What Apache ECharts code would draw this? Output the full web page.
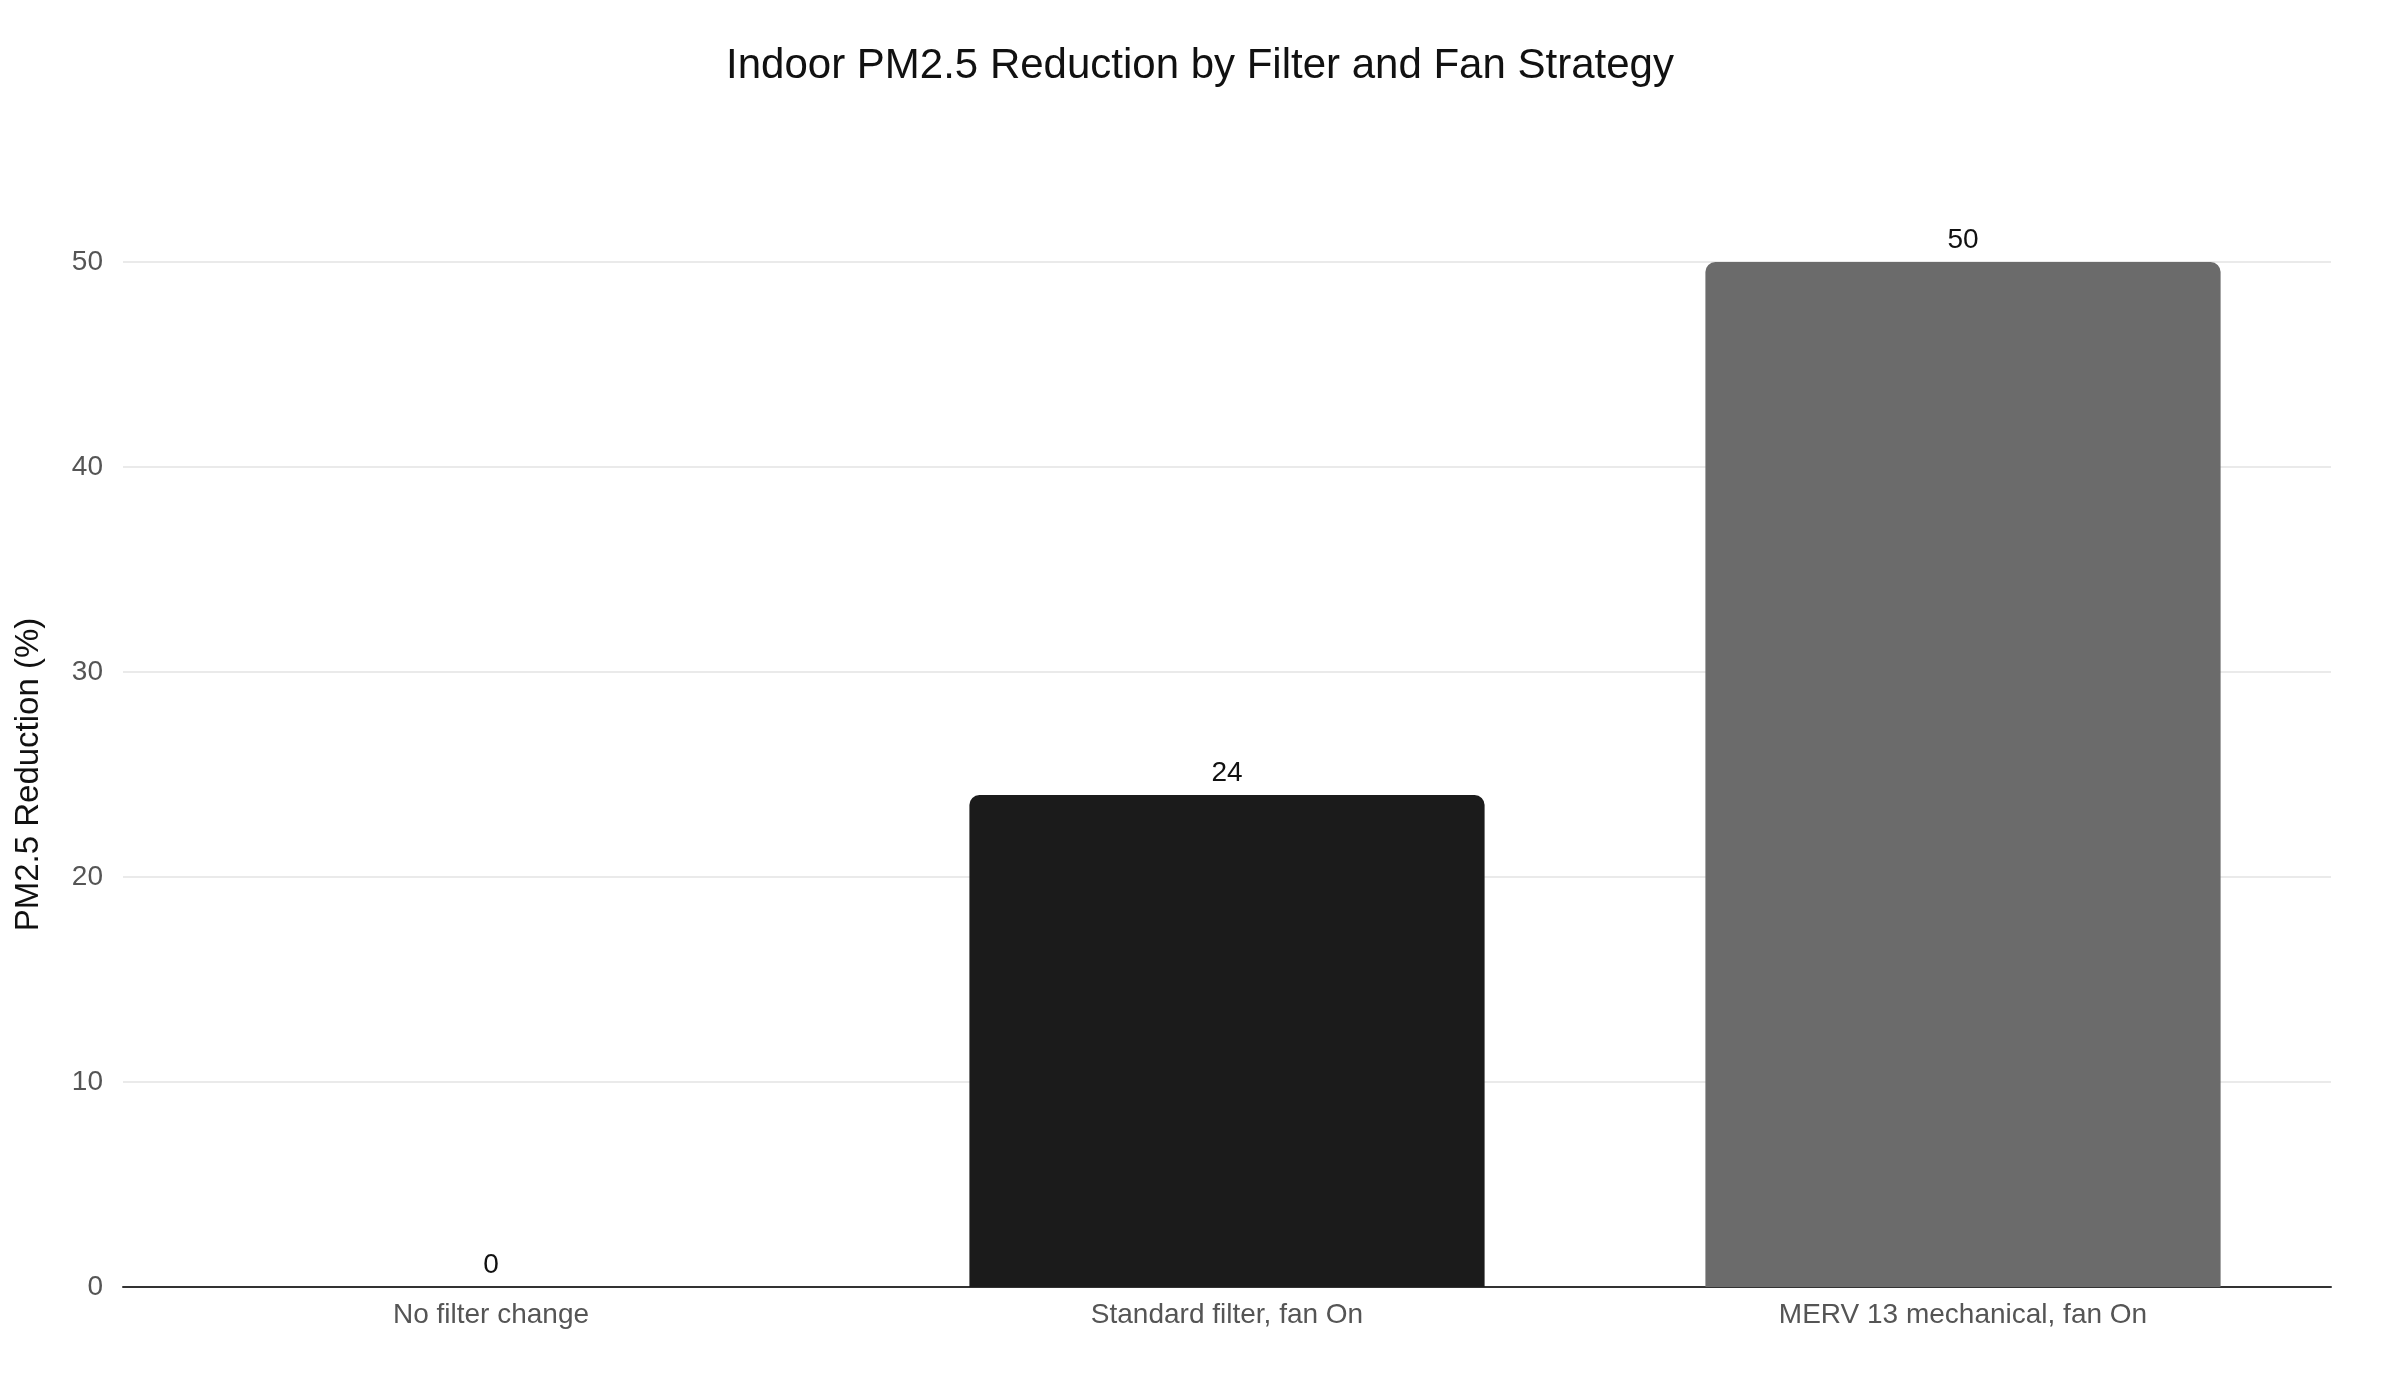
<!DOCTYPE html>
<html><head><meta charset="utf-8">
<script src="https://cdn.jsdelivr.net/npm/echarts@6/dist/echarts.min.js"></script>
<style>html,body{margin:0;background:#fff}#c{width:2400px;height:1400px}</style>
</head><body><div id="c"></div>
<script>
const categories = ["No filter change", "Standard filter, fan On", "MERV 13 mechanical, fan On"];
const values = [0, 24, 50];
const colors = ["#1b1b1b", "#1b1b1b", "#6b6b6b"];
const chart = echarts.init(document.getElementById('c'));
chart.setOption({
  title: {text: "Indoor PM2.5 Reduction by Filter and Fan Strategy", left: 'center', top: 40,
    textStyle: {fontFamily: 'Helvetica, Arial, Liberation Sans', fontWeight: 'normal', fontSize: 42, color: '#111'}},
  grid: {left: 123, right: 69, top: 262, bottom: 113},
  xAxis: {type: 'category', data: categories,
    axisLine: {lineStyle: {color: '#333', width: 2}}, axisTick: {show: false},
    axisLabel: {fontSize: 28, color: '#555', margin: 14, fontFamily: 'Liberation Sans'}},
  yAxis: {type: 'value', min: 0, max: 50, interval: 10,
    name: 'PM2.5 Reduction (%)', nameLocation: 'middle', nameGap: 78,
    nameTextStyle: {fontSize: 33, color: '#111', fontFamily: 'Liberation Sans'},
    axisLabel: {fontSize: 28, color: '#555', margin: 20, fontFamily: 'Liberation Sans'},
    splitLine: {lineStyle: {color: '#e3e3e3', width: 1.5}}},
  series: [{type: 'bar', barWidth: '70%',
    data: values.map((v, i) => ({value: v, itemStyle: {color: colors[i]}})),
    itemStyle: {borderRadius: [10, 10, 0, 0]},
    label: {show: true, position: 'top', fontSize: 28, color: '#111', distance: 8, fontFamily: 'Liberation Sans'}}]
});
</script></body></html>
